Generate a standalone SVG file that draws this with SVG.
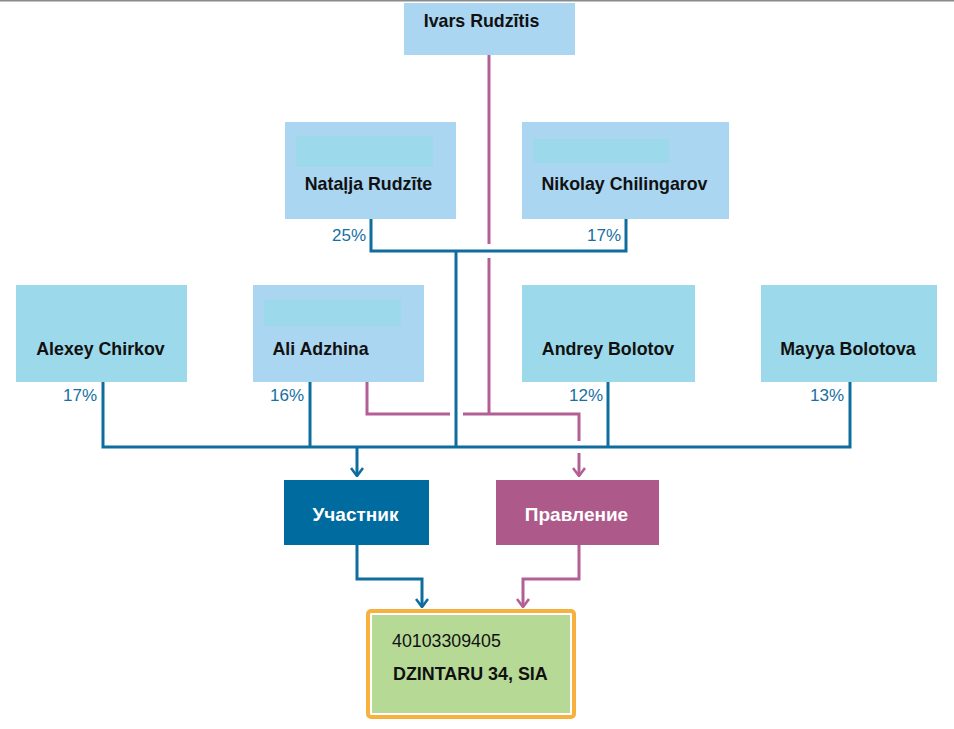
<svg xmlns="http://www.w3.org/2000/svg" width="954" height="729" viewBox="0 0 954 729">
<defs>
<style>
.lb{fill:#AAD6F2}
.cy{fill:#9CD9EA}
.nm{font-family:"Liberation Sans",Arial,sans-serif;font-weight:bold;font-size:17.8px;fill:#111;text-anchor:middle}
.pc{font-family:"Liberation Sans",Arial,sans-serif;font-size:17px;fill:#1670A2;text-anchor:end}
.bl{fill:none;stroke:#0F6C9E;stroke-width:3}
.mg{fill:none;stroke:#B25F96;stroke-width:3}
.wt{font-family:"Liberation Sans",Arial,sans-serif;font-weight:bold;font-size:19px;fill:#fff;text-anchor:middle}
</style>
<marker id="ab" viewBox="0 0 10 14" refX="9" refY="7" markerWidth="10" markerHeight="14" markerUnits="userSpaceOnUse" orient="auto">
<path d="M1,1 L9,7 L1,13" fill="none" stroke="#0F6C9E" stroke-width="2.6"/>
</marker>
<marker id="am" viewBox="0 0 10 14" refX="9" refY="7" markerWidth="10" markerHeight="14" markerUnits="userSpaceOnUse" orient="auto">
<path d="M1,1 L9,7 L1,13" fill="none" stroke="#B25F96" stroke-width="2.6"/>
</marker>
</defs>
<rect x="0" y="0" width="954" height="729" fill="#fff"/>
<rect x="0" y="0" width="954" height="1.5" fill="#8a8a8a"/>

<g id="connectors">
<path class="bl" d="M371,219 V251 H626 V219"/>
<path class="bl" d="M456,251 V447"/>
<path class="bl" d="M103,382 V447 H850 V382"/>
<path class="bl" d="M310,382 V447"/>
<path class="bl" d="M608,382 V447"/>
<path class="bl" d="M357,447 V476" marker-end="url(#ab)"/>
<path class="mg" d="M489,55 V244"/>
<path class="mg" d="M489,258 V414"/>
<path class="mg" d="M367,382 V414 H450"/>
<path class="mg" d="M463,414 H579 V441"/>
<path class="mg" d="M579,453 V476" marker-end="url(#am)"/>
<path class="bl" d="M357,545 V579 H422 V607" marker-end="url(#ab)"/>
<path class="mg" d="M579,545 V579 H523 V607" marker-end="url(#am)"/>
</g>

<g id="n-ivars">
<rect class="lb" x="404" y="3" width="171" height="52"/>
<text class="nm" x="481.5" y="27">Ivars Rudzītis</text>
</g>
<g id="n-natalja">
<rect class="lb" x="285" y="122" width="171" height="97"/>
<rect class="cy" x="296" y="136" width="137" height="31"/>
<text class="nm" x="368.5" y="190">Nataļja Rudzīte</text>
<text class="pc" x="366" y="241">25%</text>
</g>
<g id="n-nikolay">
<rect class="lb" x="522" y="122" width="207" height="97"/>
<rect class="cy" x="533" y="139" width="136" height="24"/>
<text class="nm" x="624.5" y="190">Nikolay Chilingarov</text>
<text class="pc" x="621" y="241">17%</text>
</g>
<g id="n-alexey">
<rect class="cy" x="16" y="285" width="171" height="97"/>
<text class="nm" x="100.5" y="355">Alexey Chirkov</text>
<text class="pc" x="97" y="401">17%</text>
</g>
<g id="n-ali">
<rect class="lb" x="253" y="285" width="171" height="97"/>
<rect class="cy" x="264" y="300" width="137" height="26"/>
<text class="nm" x="320.5" y="355">Ali Adzhina</text>
<text class="pc" x="304" y="401">16%</text>
</g>
<g id="n-andrey">
<rect class="cy" x="522" y="285" width="173" height="97"/>
<text class="nm" x="608" y="355">Andrey Bolotov</text>
<text class="pc" x="603" y="401">12%</text>
</g>
<g id="n-mayya">
<rect class="cy" x="761" y="285" width="176" height="97"/>
<text class="nm" x="848" y="355">Mayya Bolotova</text>
<text class="pc" x="844" y="401">13%</text>
</g>
<g id="n-uchastnik">
<rect x="284" y="480" width="145" height="65" fill="#006B9E"/>
<text class="wt" x="355.5" y="521">Участник</text>
</g>
<g id="n-pravlenie">
<rect x="496" y="480" width="163" height="65" fill="#AD5A8B"/>
<text class="wt" x="576.5" y="521">Правление</text>
</g>
<g id="n-company">
<rect x="368" y="611" width="206" height="106" rx="3" fill="#fff" stroke="#F8B03E" stroke-width="4"/>
<rect x="372" y="615" width="198" height="98" fill="#B6DA96"/>
<text x="392" y="647" font-family="Liberation Sans, Arial, sans-serif" font-size="17.8" fill="#111">40103309405</text>
<text x="393" y="680" font-family="Liberation Sans, Arial, sans-serif" font-size="17.9" font-weight="bold" fill="#111">DZINTARU 34, SIA</text>
</g>
</svg>
